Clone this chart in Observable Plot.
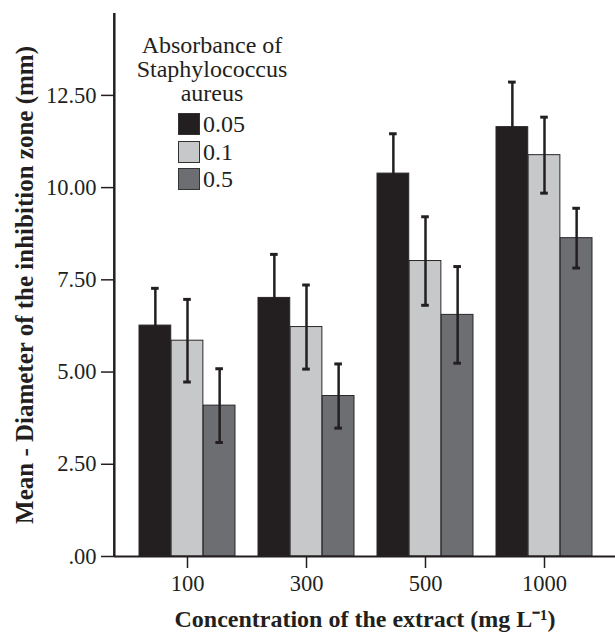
<!DOCTYPE html>
<html>
<head>
<meta charset="utf-8">
<script src="https://cdn.jsdelivr.net/npm/d3@7"></script>
<script src="https://cdn.jsdelivr.net/npm/@observablehq/plot@0.6"></script>
<style>
  html, body { margin: 0; background: #fff; overflow: hidden; }
  #wrap { position: relative; width: 615px; height: 633px; overflow: hidden; font-family: "Liberation Serif", "Times New Roman", serif; color: #231f20; }
  #wrap svg { display: block; }
  g[aria-label="y-axis label"] text { font-weight: bold; font-size: 25px; }
  g[aria-label="x-axis label"] text { font-weight: bold; font-size: 24px; }
  #legend-title { position: absolute; left: 127px; top: 33px; width: 170px; text-align: center; font-size: 24px; line-height: 24px; }
  #legend-items { position: absolute; left: 178px; top: 113px; }
  .row { display: flex; align-items: flex-start; height: 27.5px; }
  .sw { width: 22px; height: 22px; box-sizing: border-box; border: 1.5px solid #333; }
  .lab { font-size: 24px; line-height: 22px; margin-left: 3px; }
</style>
</head>
<body>
<div id="wrap"></div>
<script>
const concentrations = ["100", "300", "500", "1000"];
const absorbances = ["0.05", "0.1", "0.5"];
const means005 = [6.26, 7.01, 10.38, 11.64];
const errs005 = [1.01, 1.18, 1.08, 1.22];
const means01 = [5.85, 6.22, 8.01, 10.88];
const errs01 = [1.12, 1.14, 1.20, 1.03];
const means05 = [4.09, 4.35, 6.55, 8.63];
const errs05 = [1.00, 0.87, 1.31, 0.81];
const yTicks = [0, 2.5, 5, 7.5, 10, 12.5];
const yTickLabels = [".00", "2.50", "5.00", "7.50", "10.00", "12.50"];
const colors = ["#231f20", "#c7c8ca", "#6d6e71"];
const legendTitle = ["Absorbance of", "Staphylococcus", "aureus"];
const xTitle = "Concentration of the extract (mg L\u207B\u00B9)";
const yTitle = "Mean - Diameter of the inhibition zone (mm)";

const meansBySeries = [means005, means01, means05];
const errsBySeries = [errs005, errs01, errs05];
const rows = [];
absorbances.forEach((a, i) => {
  concentrations.forEach((c, j) => {
    rows.push({conc: c, abs: a, idx: i, mean: meansBySeries[i][j], err: errsBySeries[i][j]});
  });
});

const W = 615, H = 633;
const mL = 114, mR = 0, mT = 13, mB = 77;
const yMax = 14.72;
const xRange = [139, 592.4];
const padInner = 0.19;
const step = (xRange[1] - xRange[0]) / (concentrations.length - padInner);
const bw = step * (1 - padInner);
const sub = bw / absorbances.length;
const capHalf = 4;

const marks = [];
absorbances.forEach((a, i) => {
  const d = rows.filter(r => r.abs === a);
  marks.push(Plot.barY(d, {
    x: "conc", y: "mean", fill: "abs", stroke: "#2a2728", strokeWidth: 1,
    insetLeft: i * sub, insetRight: (absorbances.length - 1 - i) * sub
  }));
});
absorbances.forEach((a, i) => {
  const d = rows.filter(r => r.abs === a);
  const off = (i - (absorbances.length - 1) / 2) * sub;
  const cL = i * sub + sub / 2 - capHalf;
  const cR = bw - (i * sub + sub / 2 + capHalf);
  marks.push(Plot.ruleX(d, {x: "conc", y1: r => r.mean - r.err, y2: r => r.mean + r.err, dx: off, stroke: "#231f20", strokeWidth: 2.5}));
  marks.push(Plot.tickY(d, {x: "conc", y: r => r.mean + r.err, insetLeft: cL, insetRight: cR, stroke: "#231f20", strokeWidth: 3}));
  marks.push(Plot.tickY(d, {x: "conc", y: r => r.mean - r.err, insetLeft: cL, insetRight: cR, stroke: "#231f20", strokeWidth: 3}));
});
// x baseline across the frame
marks.push(Plot.ruleY([0], {stroke: "#231f20", strokeWidth: 2}));
// y-axis line at the left edge of the frame
marks.push(Plot.ruleX([concentrations[0]], {x: d => d, y1: 0, y2: yMax, dx: mL - (xRange[0] + bw / 2), stroke: "#231f20", strokeWidth: 2.5}));
marks.push(Plot.axisY({
  ticks: yTicks, tickFormat: v => yTickLabels[yTicks.indexOf(v)],
  tickSize: 13, tickPadding: 5, strokeWidth: 1.5, fontSize: 22.5,
  label: yTitle, labelAnchor: "center", labelArrow: "none", labelOffset: 99
}));
marks.push(Plot.axisX({
  tickSize: 12, tickPadding: 7, strokeWidth: 1.5, fontSize: 22.5,
  label: xTitle, labelAnchor: "center", labelArrow: "none", labelOffset: 70
}));

const chart = Plot.plot({
  width: W, height: H,
  marginLeft: mL, marginRight: mR, marginTop: mT, marginBottom: mB,
  style: {fontFamily: '"Liberation Serif", "Times New Roman", serif', fontSize: "22px", color: "#231f20", background: "#fff", overflow: "hidden"},
  x: {domain: concentrations, range: xRange, paddingInner: padInner, paddingOuter: 0},
  y: {domain: [0, yMax]},
  color: {domain: absorbances, range: colors},
  marks
});
const wrap = document.getElementById("wrap");
wrap.appendChild(chart);

const lt = document.createElement("div");
lt.id = "legend-title";
lt.innerHTML = legendTitle.map(s => `<div>${s}</div>`).join("");
wrap.appendChild(lt);
const li = document.createElement("div");
li.id = "legend-items";
absorbances.forEach((a, i) => {
  const r = document.createElement("div");
  r.className = "row";
  r.innerHTML = `<div class="sw" style="background:${colors[i]}"></div><span class="lab">${a}</span>`;
  li.appendChild(r);
});
wrap.appendChild(li);
</script>
</body>
</html>
